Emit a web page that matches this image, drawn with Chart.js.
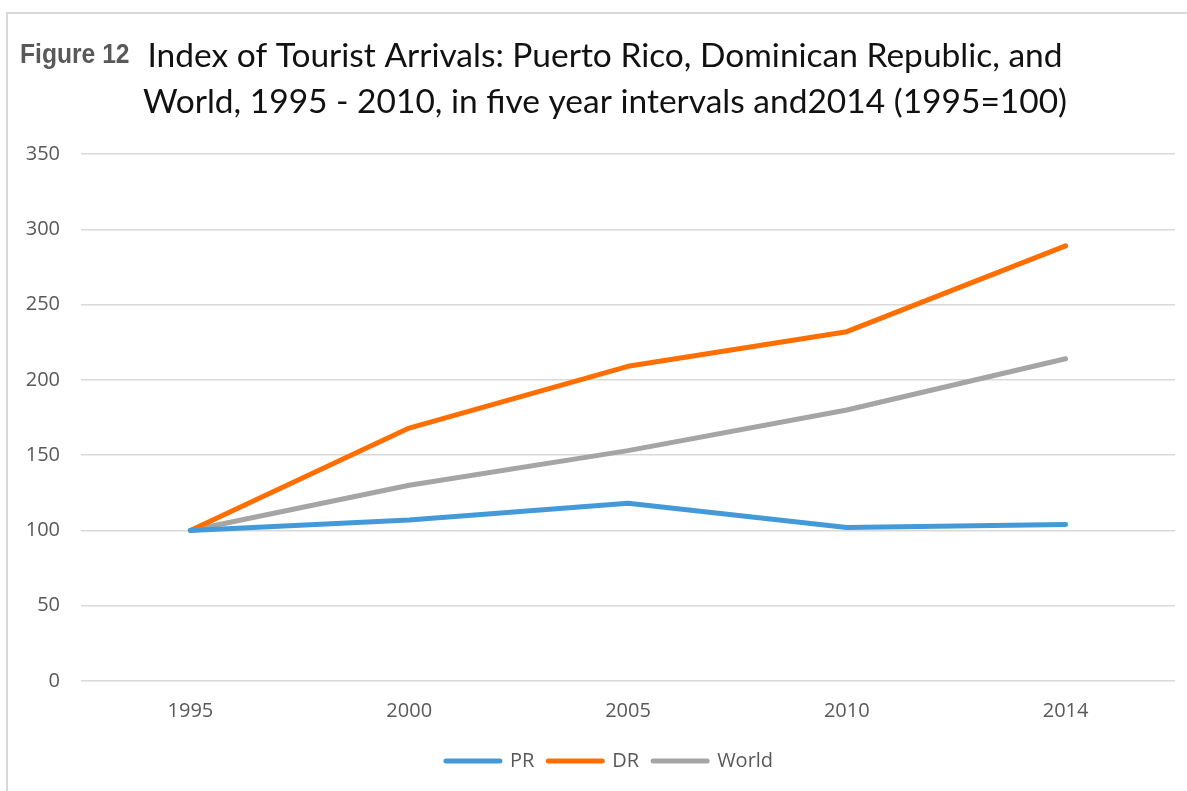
<!DOCTYPE html>
<html>
<head>
<meta charset="utf-8">
<script src="https://cdn.jsdelivr.net/npm/chart.js@4"></script>
<style>
  html, body { margin: 0; padding: 0; background: #fff; }
  #wrap { position: relative; width: 1187px; height: 791px; overflow: hidden; }
  #frame { position: absolute; left: 6px; top: 12px; width: 1300px; height: 900px;
           border-left: 2px solid #d9d9d9; border-top: 2px solid #d9d9d9; }
  canvas { position: absolute; left: 0; top: 0; }
</style>
</head>
<body>
<div id="wrap">
  <div id="frame"></div>
  <canvas id="tourChart" width="1187" height="791"></canvas>
</div>
<script>
var years = ['1995', '2000', '2005', '2010', '2014'];
var prIndex = [100, 107, 118, 102, 104];
var drIndex = [100, 168, 209, 232, 289];
var worldIndex = [100, 130, 153, 180, 214];
var yTicks = [0, 50, 100, 150, 200, 250, 300, 350];

var titleLines = [
    'Index of Tourist Arrivals: Puerto Rico, Dominican Republic, and',
    'World, 1995 - 2010, in five year intervals and2014 (1995=100)'
];

// draws the "Figure 12" tag and the two title lines
var titlePlugin = {
    id: 'figTitle',
    afterLayout: function (chart) {
        // legend sits a little right of centre in the original
        chart.legend.left += 22;
        chart.legend.right += 22;
    },
    afterDraw: function (chart) {
        var ctx = chart.ctx;
        ctx.save();
        ctx.textBaseline = 'middle';
        ctx.fillStyle = '#595959';
        ctx.font = 'bold 28px "Liberation Sans", Arial, sans-serif';
        ctx.textAlign = 'left';
        ctx.translate(20, 55);
        ctx.scale(0.88, 1);
        ctx.fillText('Figure 12', 0, 0);
        ctx.restore();
        ctx.save();
        ctx.textBaseline = 'middle';
        ctx.fillStyle = '#111';
        ctx.font = '33.5px Lato, "Open Sans", sans-serif';
        ctx.textAlign = 'center';
        ctx.fillText(titleLines[0], 605, 56);
        ctx.fillText(titleLines[1], 605, 102);
        ctx.restore();
    }
};

document.addEventListener('DOMContentLoaded', function () {
    var ctx = document.getElementById('tourChart').getContext('2d');
    var tourChart = new Chart(ctx, {
        type: 'line',
        data: {
            labels: years,
            datasets: [{
                label: 'PR',
                data: prIndex,
                borderColor: '#449ad9',
                backgroundColor: '#449ad9'
            }, {
                label: 'DR',
                data: drIndex,
                borderColor: '#ff6e00',
                backgroundColor: '#ff6e00'
            }, {
                label: 'World',
                data: worldIndex,
                borderColor: '#a5a5a5',
                backgroundColor: '#a5a5a5'
            }]
        },
        options: {
            responsive: false,
            animation: false,
            layout: { padding: { left: 0, right: 12, top: 154, bottom: 10 } },
            elements: {
                line: { borderWidth: 5, tension: 0, borderCapStyle: 'round', borderJoinStyle: 'round' },
                point: { radius: 0, hoverRadius: 0 }
            },
            scales: {
                x: {
                    offset: true,
                    grid: { display: false, drawTicks: false },
                    border: { display: false },
                    ticks: { color: '#595959', padding: 18, font: { family: '"Open Sans", sans-serif', size: 20 } },
                    afterFit: function (scale) { scale.height = 56; }
                },
                y: {
                    min: 0,
                    max: 350,
                    afterBuildTicks: function (scale) {
                        scale.ticks = yTicks.map(function (v) { return { value: v }; });
                    },
                    grid: { color: '#d9d9d9', lineWidth: 1.5, drawTicks: false },
                    border: { display: false },
                    ticks: { color: '#595959', padding: 21, font: { family: '"Open Sans", sans-serif', size: 20 } },
                    afterFit: function (scale) { scale.width = 81; }
                }
            },
            plugins: {
                tooltip: { enabled: false },
                legend: {
                    position: 'bottom',
                    labels: {
                        usePointStyle: true,
                        pointStyle: 'line',
                        pointStyleWidth: 54,
                        padding: 14,
                        color: '#595959',
                        font: { family: '"Open Sans", sans-serif', size: 20 },
                        generateLabels: function (chart) {
                            return chart.data.datasets.map(function (ds, i) {
                                return {
                                    text: ds.label,
                                    datasetIndex: i,
                                    fillStyle: ds.borderColor,
                                    strokeStyle: ds.borderColor,
                                    lineWidth: 5,
                                    lineCap: 'round',
                                    pointStyle: 'line',
                                    fontColor: '#595959',
                                    hidden: false
                                };
                            });
                        }
                    }
                }
            }
        },
        plugins: [titlePlugin]
    });
});
</script>
</body>
</html>
